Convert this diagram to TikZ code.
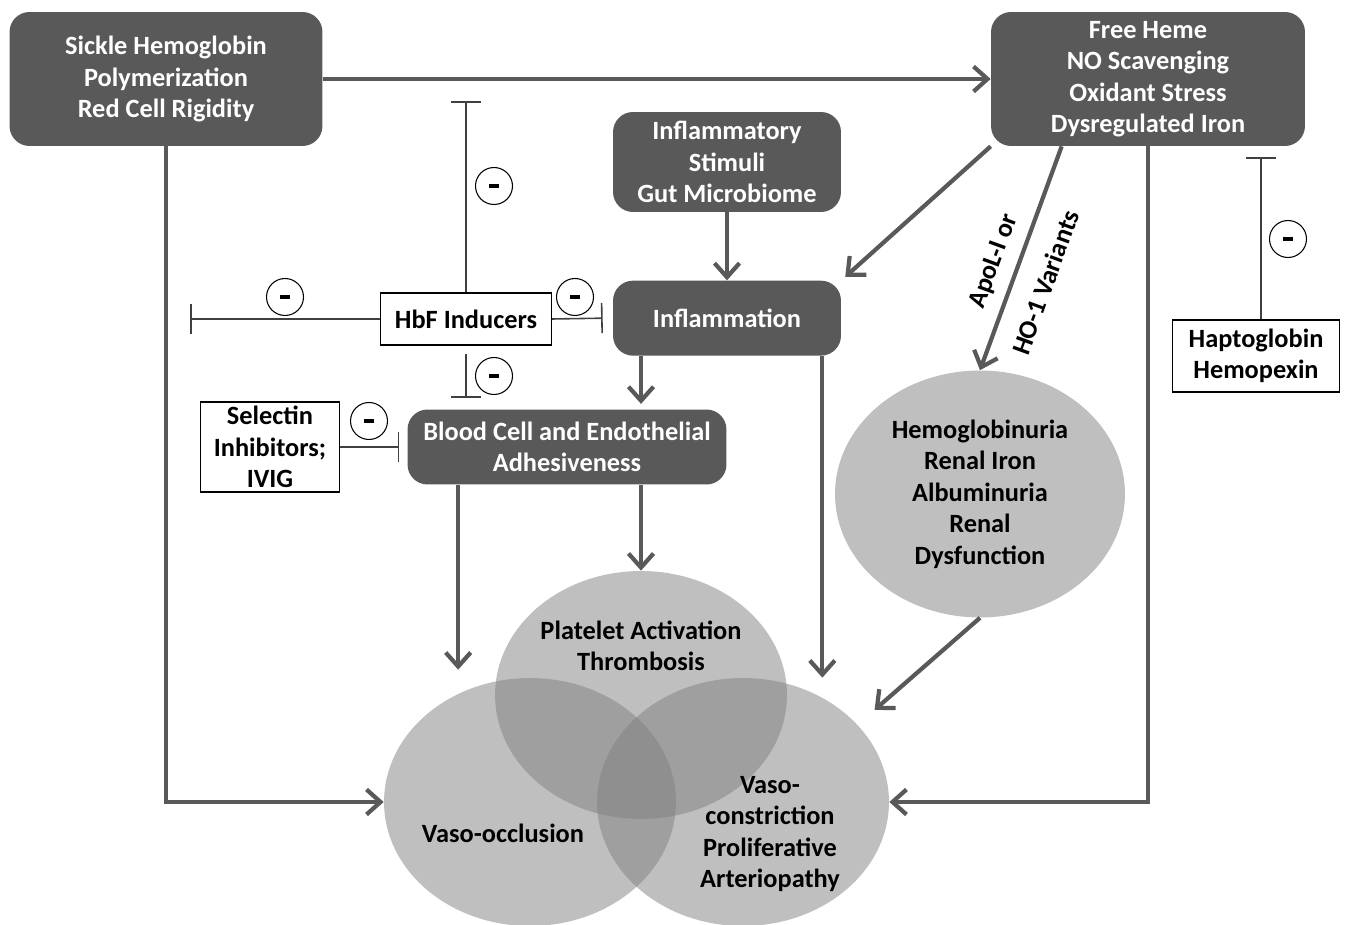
\documentclass[tikz,border=0pt]{standalone}
\usepackage{fontspec}
\setmainfont{Carlito}
\usetikzlibrary{arrows.meta}
\usetikzlibrary{positioning}
\usetikzlibrary{shapes.geometric}
\definecolor{boxgray}{RGB}{89,89,89}
\definecolor{renalgray}{RGB}{191,191,191}

\begin{document}
\begin{tikzpicture}[
x=0.02cm, y=-0.02cm,
font=\fontsize{15}{17.9}\selectfont\bfseries,
darkbox/.style={rectangle, rounded corners=0.4cm, fill=boxgray, text=white, align=center, inner sep=2pt},
whitebox/.style={rectangle, draw=black, fill=white, semithick, align=center, inner sep=2pt},
venn/.style={ellipse, fill=black!50, fill opacity=0.5, inner sep=0pt, minimum width=5.84cm, minimum height=4.96cm},
arr/.style={-{Straight Barb[length=0.28cm,width=0.5cm]}, line width=2.4pt, draw=boxgray},
inhib/.style={-{Bar[width=0.6cm]}, line width=0.9pt, draw=black!75},
neg/.style={circle, draw=black, semithick, fill=white, minimum size=0.74cm, inner sep=0pt},
]
\useasboundingbox (0,0) rectangle (1346,925);
% boxes
\node[darkbox, minimum width=6.26cm, minimum height=2.68cm] (sickle) at (166,79) {Sickle Hemoglobin\\Polymerization\\Red Cell Rigidity};
\node[darkbox, minimum width=6.28cm, minimum height=2.68cm] (heme) at (1148,79) {Free Heme\\NO Scavenging\\Oxidant Stress\\Dysregulated Iron};
\node[darkbox, minimum width=4.56cm, minimum height=2cm] (stim) at (727,162) {Inflammatory\\Stimuli\\Gut Microbiome};
\node[darkbox, minimum width=4.56cm, minimum height=1.5cm] (infl) [below=1.36cm of stim] {Inflammation};
\node[darkbox, minimum width=6.38cm, minimum height=1.5cm] (blood) at (567,447) {Blood Cell and Endothelial\\Adhesiveness};
\node[whitebox, minimum width=3.42cm, minimum height=1.04cm] (hbf) at (466,319) {HbF Inducers};
\node[whitebox, minimum width=2.78cm, minimum height=1.8cm] (sel) at (270,447) {Selectin\\Inhibitors;\\IVIG};
\node[whitebox, minimum width=3.34cm, minimum height=1.44cm] (hapto) at (1256,356) {Haptoglobin\\Hemopexin};
\node[ellipse, fill=renalgray, minimum width=5.8cm, minimum height=4.94cm, align=center, inner sep=0pt] (renal) at (980,494) {Hemoglobinuria\\Renal Iron\\Albuminuria\\Renal\\Dysfunction};
% venn
\node[venn] (plat) at (641,695) {};
\node[venn] (vocc) at (530,802) {};
\node[venn] (vcon) at (743,802) {};
\node[align=center] (plattext) at (641,646) {Platelet Activation\\Thrombosis};
\node (vocctext) at (503,833) {Vaso-occlusion};
\node[align=center] (vcontext) at (770,834) {Vaso-\\constriction\\Proliferative\\Arteriopathy};
% arrows
\draw[arr] (sickle.east) -- (heme.west);
\draw[arr] (sickle.south) |- (vocc.west);
\draw[arr] (heme.south) |- (vcon.east);
\draw[arr] (stim.south) -- (infl.north);
\draw[arr, shorten >=3pt] ([xshift=-1.72cm]infl.south) -- ([xshift=-1.72cm]infl.south |- blood.north);
\draw[arr, shorten >=3pt] (heme.south west) -- (infl.north east);
\draw[arr] ([xshift=1.42cm]heme.south west) -- node[sloped, above=3pt, pos=0.55]{ApoL-I or} node[sloped, below=8pt, pos=0.56]{HO-1 Variants} (renal.north);
\draw[arr, shorten >=0.16cm] ([xshift=1.02cm]blood.south west) -- ([xshift=1.02cm]blood.south west |- vocc.north);
\draw[arr] (blood.south -| plat.north) -- (plat.north);
\draw[arr] ([xshift=-0.38cm]infl.south east) -- ([xshift=-0.38cm]infl.south east |- vcon.north);
\draw[arr, shorten >=0.45cm] (renal.south) -- (vcon.34);
% inhibitors
\coordinate (hbfup) at (466,101);
\coordinate (hbfleft) at (190,319);
\coordinate (hbfdown) at (466,398);
\coordinate (haptobar) at (1261,157);
\draw[inhib] (hbf.north) -- (hbfup);
\draw[inhib] (hbf.west) -- (hbfleft);
\draw[inhib] (hbf.east) -- ([xshift=-0.2cm]infl.west);
\draw[inhib, shorten <=0.16cm] (hbf.south) -- (hbfdown);
\draw[inhib] (sel.east) -- ([xshift=-0.16cm]blood.west);
\draw[inhib] (hapto.north -| haptobar) -- (haptobar);
\node[neg] (m1) at (494,186) {\rule{0.2cm}{0.08cm}};
\node[neg] (m2) at (285,297) {\rule{0.2cm}{0.08cm}};
\node[neg] (m3) at (575,297) {\rule{0.2cm}{0.08cm}};
\node[neg] (m4) at (494,376) {\rule{0.2cm}{0.08cm}};
\node[neg] (m5) at (369,421) {\rule{0.2cm}{0.08cm}};
\node[neg] (m6) at (1288,239) {\rule{0.2cm}{0.08cm}};
\end{tikzpicture}
\end{document}
